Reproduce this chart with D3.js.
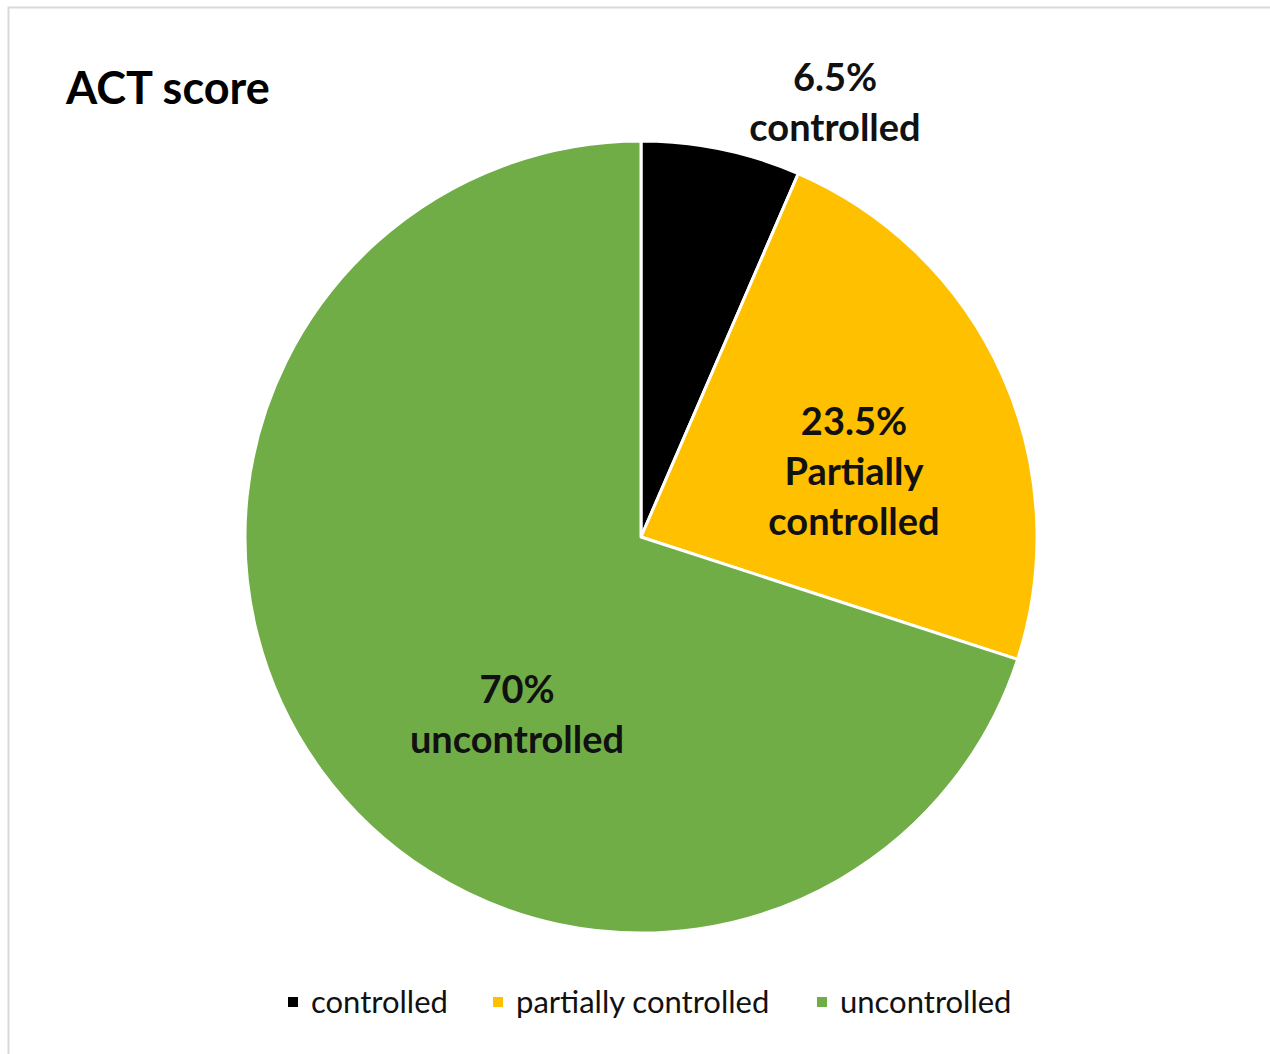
<!DOCTYPE html>
<html lang="en">
<head>
  <meta charset="UTF-8" />
  <title>ACT score</title>
  <script src="https://d3js.org/d3.v7.min.js"></script>
  <style>
    body { margin: 0; background: #fff; }
    svg { font-family: Lato, 'Open Sans', sans-serif; }
    .title { font-size: 45px; font-weight: bold; fill: #000; }
    .lbl { font-size: 38px; font-weight: bold; fill: #111; }
    .legend text { font-size: 31px; fill: #111; }
  </style>
</head>
<body>
  <svg id="chart" width="1270" height="1054"></svg>
  <script>
    // data
    const categories = ["controlled", "partially controlled", "uncontrolled"];
    const values = [6.5, 23.5, 70];
    const labelLines = [
      ["6.5%", "controlled"],
      ["23.5%", "Partially", "controlled"],
      ["70%", "uncontrolled"]
    ];
    const colors = ["#000000", "#FFC000", "#70AD47"];

    // layout
    const cx = 641, cy = 537, r = 396;
    const labelPos = [[194, -434], [213, -65], [-124, 178]]; // label centre, relative to pie centre
    const lineGap = 50;

    const svg = d3.select("#chart");

    // chart frame
    svg.append("rect")
      .attr("x", 8.5).attr("y", 7.5)
      .attr("width", 1300).attr("height", 1100)
      .attr("fill", "none")
      .attr("stroke", "#d9d9d9")
      .attr("stroke-width", 2);

    svg.append("text")
      .attr("class", "title")
      .attr("x", 66).attr("y", 104)
      .text("ACT score");

    const color = d3.scaleOrdinal().domain(categories).range(colors);

    const pie = d3.pie().sort(null).value(d => d.value);
    const arc = d3.arc().innerRadius(0).outerRadius(r);
    const slices = pie(categories.map((c, i) => ({ name: c, value: values[i], lines: labelLines[i], pos: labelPos[i] })));

    const g = svg.append("g").attr("transform", `translate(${cx},${cy})`);

    g.selectAll("path")
      .data(slices)
      .join("path")
        .attr("d", arc)
        .attr("fill", d => color(d.data.name))
        .attr("stroke", "#fff")
        .attr("stroke-width", 3)
        .attr("stroke-linejoin", "round");

    g.selectAll("text.lbl")
      .data(slices)
      .join("text")
        .attr("class", "lbl")
        .attr("text-anchor", "middle")
        .attr("transform", d => `translate(${d.data.pos[0]},${d.data.pos[1]})`)
      .selectAll("tspan")
      .data(d => d.data.lines.map((t, i, a) => ({ t, off: (i - (a.length - 1) / 2) * lineGap })))
      .join("tspan")
        .attr("x", 0)
        .attr("y", d => d.off)
        .attr("dy", "0.35em")
        .text(d => d.t);

    // legend
    const legendX = [288, 493, 817];
    const legend = svg.append("g").attr("class", "legend")
      .selectAll("g")
      .data(categories)
      .join("g")
        .attr("transform", (d, i) => `translate(${legendX[i]},1002)`);

    legend.append("rect")
      .attr("x", 0).attr("y", -5)
      .attr("width", 10).attr("height", 10)
      .attr("fill", d => color(d));

    legend.append("text")
      .attr("x", 23)
      .attr("dy", "0.35em")
      .text(d => d);
  </script>
</body>
</html>
